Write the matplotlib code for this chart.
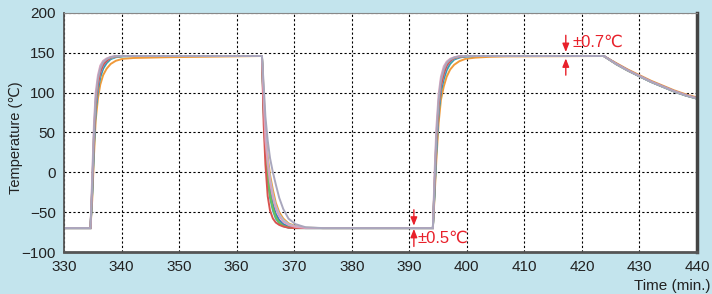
import matplotlib
matplotlib.use("Agg")
import matplotlib.pyplot as plt

plt.rcParams["font.family"] = ["Liberation Sans", "DejaVu Sans"]

# shared sample times (min.)
time_min = [330, 334.6,
            334.9, 335.2, 335.5, 335.9, 336.3, 336.8, 337.4, 338.1, 339.0, 340.2, 342.0, 345.0, 348.0,
            364.4,
            364.7, 365.0, 365.4, 365.8, 366.3, 366.8, 367.4, 368.1, 369.0, 370.2, 372.0, 375.0,
            394.1,
            394.4, 394.7, 395.1, 395.5, 396.0, 396.5, 397.1, 397.8, 398.7, 399.8, 401.5, 404.0, 407.0,
            423.8, 426, 428, 430, 432, 434, 436, 438, 440]

# one temperature trace per sensor (degC)
temp_orange = [-70, -70,
               -35, 20, 65, 93, 110, 122, 130, 136, 140, 142.5, 143.5, 144, 144.5,
               146,
               100, 55, 20, -3, -22, -38, -50, -58, -64, -67.5, -69.5, -70,
               -70,
               -30, 15, 62, 91, 108, 120, 129, 135, 139.5, 142.5, 144, 145, 145.5,
               146, 137, 129, 122, 115, 109, 103, 98, 94]
temp_teal = [-70, -70,
             -28, 30, 76, 103, 119, 130, 137, 142, 144.5, 145.5, 146, 146, 146,
             146,
             75, 25, -10, -32, -48, -58, -64, -67.5, -69.5, -70, -70, -70,
             -70,
             -25, 25, 74, 101, 117, 128, 136, 141.5, 144, 145.5, 146, 146, 146,
             146, 136, 128, 121, 114, 108, 102, 97, 93]
temp_blue = [-70, -70,
             -25, 35, 80, 106, 122, 132, 139, 143, 145, 146, 146, 146, 146,
             146,
             85, 35, 0, -22, -40, -52, -60, -65, -68, -69.5, -70, -70,
             -70,
             -22, 30, 78, 104, 120, 131, 138.5, 142.5, 144.5, 145.5, 146, 146, 146,
             146, 136, 128, 120.5, 113.5, 107.5, 101.5, 96.5, 92.5]
temp_lightblue = [-70, -70,
                  -22, 40, 84, 110, 125, 134, 140, 143.5, 145, 146, 146, 146, 146,
                  146,
                  95, 50, 15, -8, -28, -42, -53, -60, -65, -68, -69.5, -70,
                  -70,
                  -18, 35, 82, 108, 123, 133, 139.5, 143, 145, 146, 146, 146, 146,
                  146, 136, 128, 121, 114, 108, 102, 97, 93]
temp_green = [-70, -70,
              -20, 45, 88, 113, 127, 136, 141, 144, 145.5, 146, 146, 146, 146,
              146,
              80, 30, -5, -28, -45, -56, -63, -67, -69, -70, -70, -70,
              -70,
              -15, 40, 86, 111, 126, 135, 140.5, 143.5, 145, 146, 146, 146, 146,
              146, 135.5, 127.5, 120.5, 113.5, 107.5, 101.5, 96.5, 92.5]
temp_red = [-70, -70,
            -20, 42, 86, 111, 126, 135, 140, 144, 145.5, 146, 146, 146, 146,
            146,
            60, 10, -30, -48, -58, -63, -66, -68, -69.5, -70, -70, -70,
            -70,
            -15, 38, 84, 109, 124, 134, 140, 143.5, 145, 146, 146, 146, 146,
            146, 136, 128, 121, 114, 108, 102, 97, 93]
temp_pink = [-70, -70,
             -5, 60, 100, 122, 134, 140, 143, 145, 146, 146, 146, 146, 146,
             146,
             90, 40, 10, -12, -32, -45, -55, -62, -66, -68.5, -70, -70,
             -70,
             0, 55, 98, 120, 133, 139, 142.5, 144.5, 146, 146, 146, 146, 146,
             146, 136, 128, 121, 114, 108, 102, 97, 93]
temp_gray = [-70, -70,
             -15, 50, 92, 117, 130, 138, 142, 144.5, 146, 146, 146, 146, 146,
             146,
             110, 70, 40, 18, 0, -15, -32, -46, -58, -65, -69, -70,
             -70,
             -10, 45, 90, 115, 129, 137, 141.5, 144, 145.5, 146, 146, 146, 146,
             146, 135.5, 127.5, 120.5, 113.5, 107.5, 101.5, 96.5, 92.5]

traces = [
    (temp_orange, "#f09a3a"),
    (temp_teal, "#3fb0a8"),
    (temp_blue, "#3a78c0"),
    (temp_lightblue, "#9cc9e6"),
    (temp_green, "#6cbf5a"),
    (temp_red, "#d9534f"),
    (temp_pink, "#d9a3bf"),
    (temp_gray, "#a9a7bd"),
]

x_ticks = [330, 340, 350, 360, 370, 380, 390, 400, 410, 420, 430, 440]
y_ticks = [-100, -50, 0, 50, 100, 150, 200]
y_ticklabels = ["\u2212100", "\u221250", "0", "50", "100", "150", "200"]

fig = plt.figure(figsize=(7.12, 2.94), dpi=100)
fig.patch.set_facecolor("#c3e4ed")
ax = fig.add_axes([64 / 712, 1 - 252 / 294, 633 / 712, 239 / 294])
ax.set_facecolor("white")

for temps, color in traces:
    ax.plot(time_min, temps, color=color, linewidth=1.4, solid_joinstyle="miter")

ax.set_xlim(330, 440)
ax.set_ylim(-100, 200)
ax.set_xticks(x_ticks)
ax.set_yticks(y_ticks)
ax.set_yticklabels(y_ticklabels)
ax.tick_params(length=0, labelsize=11, colors="#222222", pad=6)
ax.grid(True, color="black", linestyle=(0, (2, 2)), linewidth=0.8)

ax.spines["left"].set_color("#555555")
ax.spines["left"].set_linewidth(1.3)
ax.spines["top"].set_color("#888888")
ax.spines["top"].set_linewidth(0.8)
ax.spines["bottom"].set_color("#555555")
ax.spines["bottom"].set_linewidth(2.0)
ax.spines["right"].set_color("#444444")
ax.spines["right"].set_linewidth(2.5)

ax.set_ylabel("Temperature (\u2103)", fontsize=10.5, color="#222222")
ax.yaxis.set_label_coords(-(64 - 23) / 633, 0.5 + (133 - 138) / 239)
fig.text(711 / 712, 1 - 286 / 294, "Time (min.)", fontsize=11, color="#222222",
         ha="right", va="center")

red = "#e8202a"
arrow = dict(arrowstyle="-|>,head_length=0.5,head_width=0.2", color=red, lw=1.0,
             shrinkA=0, shrinkB=0)
# +/-0.7 annotation
ax.annotate("", xy=(417.2, 151), xytext=(417.2, 172), arrowprops=arrow)
ax.annotate("", xy=(417.2, 143), xytext=(417.2, 122), arrowprops=arrow)
ax.text(418.4, 163, "\u00b10.7\u2103", color=red, fontsize=12, ha="left", va="center")
# +/-0.5 annotation
ax.annotate("", xy=(390.8, -67), xytext=(390.8, -47), arrowprops=arrow)
ax.annotate("", xy=(390.8, -71), xytext=(390.8, -93), arrowprops=arrow)
ax.text(391.4, -83, "\u00b10.5\u2103", color=red, fontsize=12, ha="left", va="center")

fig.savefig("out.png", dpi=100, facecolor=fig.get_facecolor())
